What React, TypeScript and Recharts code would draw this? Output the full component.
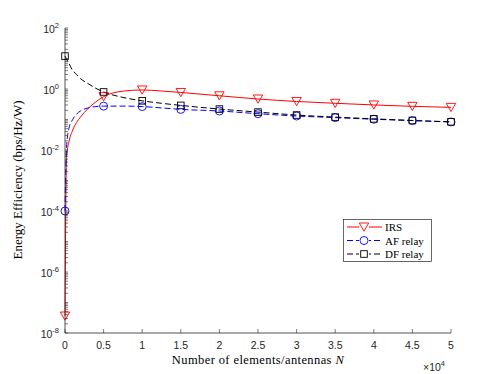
import React from 'react';
import { LineChart, Line, XAxis, YAxis, Legend } from 'recharts';

// number of elements / antennas N
const elements = [0, 200, 500, 1000, 1500, 2000, 3000, 4000, 5000, 7500, 10000, 12500, 15000, 20000, 25000, 30000, 35000, 40000, 45000, 50000];
const irs = [3.6e-8, 0.006, 0.018, 0.045, 0.08, 0.12, 0.23, 0.38, 0.56, 0.85, 0.93, 0.86, 0.77, 0.6, 0.47, 0.39, 0.34, 0.3, 0.27, 0.25];
const afRelay = [1e-4, 0.012, 0.05, 0.1, 0.15, 0.19, 0.24, 0.265, 0.275, 0.275, 0.265, 0.24, 0.215, 0.19, 0.155, 0.13, 0.115, 0.102, 0.092, 0.083];
const dfRelay = [12, 9.5, 7, 4, 3, 2.2, 1.5, 1.05, 0.8, 0.53, 0.41, 0.34, 0.29, 0.22, 0.175, 0.14, 0.12, 0.105, 0.093, 0.084];

const xTicks = [0, 5000, 10000, 15000, 20000, 25000, 30000, 35000, 40000, 45000, 50000];
const decades = [-8, -7, -6, -5, -4, -3, -2, -1, 0, 1];
const mantissas = [1, 2, 3, 4, 5, 6, 7, 8, 9];
const yTicks = [...decades.flatMap((d) => mantissas.map((m) => m * Math.pow(10, d))), 100];

const data = elements.map((N, i) => ({ N, irs: irs[i], af: afRelay[i], df: dfRelay[i] }));

const axisColor = '#262626';
const sansFont = '"Liberation Sans", Arial, sans-serif';
const serifFont = '"Liberation Serif", "Times New Roman", serif';

const expOf = (v: number) => {
  const l = Math.log10(v);
  const e = Math.round(l);
  return { e, major: Math.abs(l - e) < 1e-6 };
};

const LeftTick = (props: any) => {
  const { x, y, payload } = props;
  const { e, major } = expOf(payload.value);
  const labelled = major && e % 2 === 0;
  return (
    <g>
      <line x1={x} x2={x + 3} y1={y} y2={y} stroke={axisColor} strokeWidth={0.6} />
      {labelled && (
        <text x={x - 6} y={y + 5} textAnchor="end" fontSize={10.5} fill={axisColor} fontFamily={sansFont}>
          10<tspan dy={-5} fontSize={7.5}>{e}</tspan>
        </text>
      )}
    </g>
  );
};

const RightTick = (props: any) => {
  const { x, y } = props;
  return <line x1={x} x2={x - 3} y1={y} y2={y} stroke={axisColor} strokeWidth={0.6} />;
};

const BottomTick = (props: any) => {
  const { x, y, payload } = props;
  return (
    <g>
      <line x1={x} x2={x} y1={y} y2={y - 4} stroke={axisColor} strokeWidth={0.6} />
      <text x={x} y={y + 16} textAnchor="middle" fontSize={10.5} fill={axisColor} fontFamily={sansFont}>
        {payload.value / 10000}
      </text>
    </g>
  );
};

const TopTick = (props: any) => {
  const { x, y } = props;
  return <line x1={x} x2={x} y1={y} y2={y + 4} stroke={axisColor} strokeWidth={0.6} />;
};

type Shape = 'tri' | 'circle' | 'square';

const marker = (shape: Shape, cx: number, cy: number, color: string) => {
  if (shape === 'tri') {
    return (
      <polygon
        points={`${cx - 4.7},${cy - 4} ${cx + 4.7},${cy - 4} ${cx},${cy + 4.2}`}
        fill="none"
        stroke={color}
        strokeWidth={0.9}
      />
    );
  }
  if (shape === 'circle') {
    return <circle cx={cx} cy={cy} r={4} fill="none" stroke={color} strokeWidth={0.9} />;
  }
  return <rect x={cx - 3.3} y={cy - 3.3} width={6.6} height={6.6} fill="none" stroke={color} strokeWidth={0.9} />;
};

const makeDot = (shape: Shape, color: string) => (props: any) => {
  const { cx, cy, payload, index } = props;
  if (cx == null || cy == null || payload.N % 5000 !== 0) return <g key={`d-${index}`} />;
  return <g key={`d-${index}`}>{marker(shape, cx, cy, color)}</g>;
};

const series = [
  { key: 'irs', name: 'IRS', color: '#ff0000', dash: undefined, shape: 'tri' as Shape },
  { key: 'af', name: 'AF relay', color: '#0000ff', dash: '6 3', shape: 'circle' as Shape },
  { key: 'df', name: 'DF relay', color: '#000000', dash: '6 3', shape: 'square' as Shape },
];

const renderLegend = (props: any) => {
  const payload: any[] = props.payload || [];
  // keep the plotting order (IRS, AF relay, DF relay)
  const entries = series
    .map((s) => ({ s, entry: payload.find((p) => p.dataKey === s.key) }))
    .filter((d) => d.entry);
  return (
    <svg width={89} height={43} style={{ display: 'block' }}>
      <rect x={0.5} y={0.5} width={88} height={42} fill="#fff" stroke={axisColor} strokeWidth={0.7} />
      {entries.map(({ s, entry }, i) => {
        const cy = 8 + i * 13.5;
        return (
          <g key={s.key}>
            <line x1={4} x2={39} y1={cy} y2={cy} stroke={entry.color || s.color} strokeWidth={1} strokeDasharray={s.dash} />
            <rect x={16} y={cy - 5} width={10} height={10} fill="#fff" />
            {marker(s.shape, 21, cy, entry.color || s.color)}
            <text x={42} y={cy + 4} fontSize={11} fontFamily={serifFont} fill="#000">
              {entry.value}
            </text>
          </g>
        );
      })}
    </svg>
  );
};

const App: React.FC = () => {
  return (
    <div style={{ position: 'absolute', left: 0, top: 0, background: '#fff' }}>
      <LineChart width={498} height={374} data={data} margin={{ top: 28, right: 47, bottom: 0, left: 0 }}>
        <XAxis
          dataKey="N"
          type="number"
          domain={[0, 50000]}
          ticks={xTicks}
          interval={0}
          height={41}
          tickSize={0}
          tickMargin={0}
          tickLine={false}
          axisLine={{ stroke: axisColor, strokeWidth: 0.8 }}
          tick={<BottomTick />}
        />
        <XAxis
          xAxisId="top"
          orientation="top"
          dataKey="N"
          type="number"
          domain={[0, 50000]}
          ticks={xTicks}
          interval={0}
          height={0}
          tickSize={0}
          tickMargin={0}
          tickLine={false}
          axisLine={{ stroke: axisColor, strokeWidth: 0.8 }}
          tick={<TopTick />}
        />
        <YAxis
          type="number"
          scale="log"
          domain={[1e-8, 100]}
          allowDataOverflow
          ticks={yTicks}
          interval={0}
          width={65}
          tickSize={0}
          tickMargin={0}
          tickLine={false}
          axisLine={{ stroke: axisColor, strokeWidth: 0.8 }}
          tick={<LeftTick />}
        />
        <YAxis
          yAxisId="right"
          orientation="right"
          type="number"
          scale="log"
          domain={[1e-8, 100]}
          allowDataOverflow
          ticks={yTicks}
          interval={0}
          width={0}
          tickSize={0}
          tickMargin={0}
          tickLine={false}
          axisLine={{ stroke: axisColor, strokeWidth: 0.8 }}
          tick={<RightTick />}
        />
        {series.map((s) => (
          <Line
            key={s.key}
            type="monotone"
            dataKey={s.key}
            name={s.name}
            stroke={s.color}
            strokeWidth={1}
            strokeDasharray={s.dash}
            dot={makeDot(s.shape, s.color)}
            activeDot={false}
            isAnimationActive={false}
          />
        ))}
        <Legend
          layout="horizontal"
          verticalAlign="middle"
          align="center"
          content={renderLegend}
          wrapperStyle={{ position: 'absolute', left: 343, top: 219, width: 89, height: 43 }}
        />
        <text
          x={258}
          y={364}
          textAnchor="middle"
          fontSize={12.5}
          letterSpacing={0.4}
          fontFamily={serifFont}
          fill="#000"
        >
          Number of elements/antennas <tspan fontStyle="italic">N</tspan>
        </text>
        <text
          x={22}
          y={180}
          transform="rotate(-90 22 180)"
          textAnchor="middle"
          fontSize={13}
          fontFamily={serifFont}
          fill="#000"
        >
          Energy Efficiency (bps/Hz/W)
        </text>
        <text x={445} y={371} textAnchor="end" fontSize={10.5} fontFamily={sansFont} fill={axisColor}>
          ×10<tspan dy={-5} fontSize={7.5}>4</tspan>
        </text>
      </LineChart>
    </div>
  );
};

export default App;
